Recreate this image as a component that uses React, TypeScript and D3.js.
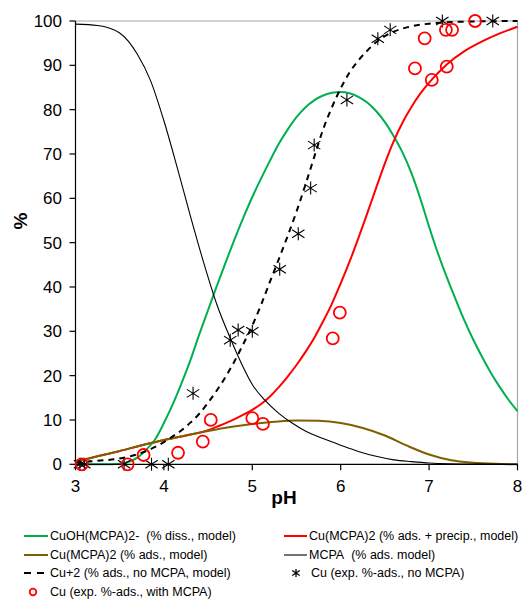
import React from "react";
import * as d3 from "d3";

const greenPH = [3.0, 3.4, 3.55, 3.7, 3.8, 3.9, 4.0, 4.1, 4.2, 4.3, 4.4, 4.5, 4.6, 4.7, 4.8, 4.9, 5.0, 5.1, 5.2, 5.3, 5.4, 5.5, 5.6, 5.7, 5.8, 5.9, 6.0, 6.1, 6.2, 6.3, 6.4, 6.5, 6.6, 6.7, 6.8, 6.9, 7.0, 7.1, 7.2, 7.3, 7.4, 7.5, 7.6, 7.7, 7.8, 7.9, 8.0];
const greenVal = [0, 0, 0.3, 1.5, 3.3, 5.6, 9.3, 13.5, 18.3, 23.5, 29.3, 34.8, 40.3, 45.6, 50.8, 55.7, 60.3, 64.5, 68.5, 72.3, 75.5, 78.3, 80.5, 82.1, 83.2, 83.8, 84.0, 83.7, 82.9, 81.6, 79.7, 77.2, 74.0, 70.3, 65.7, 60.0, 53.6, 47.6, 42.2, 37.2, 32.4, 28.1, 24.2, 20.6, 17.4, 14.5, 12.0];

const redPH = [3.0, 3.25, 3.5, 3.75, 4.0, 4.25, 4.5, 4.6, 4.7, 4.8, 4.9, 5.0, 5.1, 5.2, 5.3, 5.4, 5.5, 5.6, 5.7, 5.8, 5.9, 6.0, 6.1, 6.2, 6.3, 6.4, 6.5, 6.6, 6.7, 6.8, 6.9, 7.0, 7.2, 7.4, 7.6, 7.8, 8.0];
const redVal = [0.6, 1.8, 3.0, 4.3, 5.5, 6.5, 7.7, 8.5, 9.3, 10.2, 11.2, 12.3, 13.6, 15.3, 17.4, 19.8, 22.4, 25.3, 28.5, 32.2, 36.2, 40.8, 45.7, 51.0, 56.6, 62.3, 67.9, 72.9, 77.1, 80.6, 83.6, 86.1, 90.2, 93.2, 95.4, 97.2, 98.7];

const brownPH = [3.0, 3.25, 3.5, 3.75, 4.0, 4.25, 4.5, 4.75, 5.0, 5.25, 5.5, 5.75, 6.0, 6.25, 6.5, 6.75, 7.0, 7.25, 7.5, 7.75, 8.0];
const brownVal = [0.6, 1.8, 3.0, 4.3, 5.5, 6.5, 7.5, 8.4, 9.1, 9.6, 9.9, 9.8, 9.3, 8.2, 6.5, 4.2, 2.2, 0.9, 0.35, 0.1, 0];

const mcpaPH = [3.0, 3.25, 3.5, 3.7, 3.85, 4.0, 4.15, 4.3, 4.45, 4.6, 4.75, 4.9, 5.0, 5.15, 5.3, 5.45, 5.6, 5.8, 6.0, 6.2, 6.4, 6.6, 6.8, 7.0, 7.5, 8.0];
const mcpaVal = [99.3, 99.0, 97.3, 92.5, 86.5, 77.5, 67.0, 56.0, 45.5, 36.0, 28.5, 21.8, 18.0, 14.3, 11.5, 9.3, 7.5, 5.8, 4.3, 2.9, 1.8, 1.0, 0.6, 0.3, 0.05, 0];

const cuPH = [3.0, 3.25, 3.5, 3.75, 4.0, 4.1, 4.2, 4.3, 4.4, 4.5, 4.6, 4.7, 4.8, 4.9, 5.0, 5.1, 5.2, 5.3, 5.4, 5.5, 5.6, 5.7, 5.8, 5.9, 6.0, 6.1, 6.2, 6.3, 6.4, 6.5, 6.6, 6.8, 7.0, 7.5, 8.0];
const cuVal = [0.4, 0.8, 1.3, 2.6, 5.0, 6.3, 7.7, 9.4, 11.4, 13.9, 16.7, 19.8, 23.3, 27.2, 31.3, 36.0, 41.2, 46.3, 51.5, 57.0, 63.0, 69.3, 75.5, 80.5, 84.8, 88.4, 91.1, 93.3, 95.2, 96.6, 97.6, 98.8, 99.4, 99.9, 100];

const starPH = [3.05, 3.1, 3.55, 3.86, 4.05, 4.33, 4.75, 4.84, 5.0, 5.31, 5.52, 5.66, 5.7, 6.07, 6.42, 6.56, 7.15, 7.72];
const starVal = [0, 0, 0, 0, 0, 16, 28, 30.3, 30, 44, 52, 62.3, 72, 82.2, 96, 98, 100, 100];

const circPH = [3.07, 3.59, 3.77, 4.16, 4.44, 4.53, 5.0, 5.12, 5.91, 5.99, 6.84, 6.95, 7.03, 7.19, 7.2, 7.26, 7.52];
const circVal = [0, 0, 2.1, 2.6, 5.1, 10, 10.4, 9.1, 28.4, 34.2, 89.3, 96.1, 86.7, 98, 89.7, 98, 100];

const xTicks = [3, 4, 5, 6, 7, 8];
const yTicks = [0, 10, 20, 30, 40, 50, 60, 70, 80, 90, 100];

const GREEN = "#00B050";
const RED = "#FF0000";
const BROWN = "#7F6000";
const FONT = "'Liberation Sans', Arial, sans-serif";

const zip = (a: number[], b: number[]) => a.map((v, i) => [v, b[i]] as [number, number]);

function Star({ x, y, s = 6.5, w = 1.1 }: { x: number; y: number; s?: number; w?: number }) {
  const dx = s * 0.95;
  const dy = s * 0.62;
  return (
    <path
      d={`M${x},${y - s}L${x},${y + s}M${x - dx},${y - dy}L${x + dx},${y + dy}M${x - dx},${y + dy}L${x + dx},${y - dy}`}
      stroke="#000"
      strokeWidth={w}
      fill="none"
    />
  );
}

export default function App() {
  const x = d3.scaleLinear().domain([3, 8]).range([75.5, 517.5]);
  const y = d3.scaleLinear().domain([0, 100]).range([464.3, 21]);
  const line = d3
    .line<[number, number]>()
    .x((d) => x(d[0]))
    .y((d) => y(d[1]))
    .curve(d3.curveMonotoneX);

  const legendRows = [536, 555, 573, 592];

  return (
    <svg
      width={523}
      height={606}
      style={{ position: "absolute", left: 0, top: 0, background: "#fff" }}
      fontFamily={FONT}
    >
      <rect x={0} y={0} width={523} height={606} fill="#fff" />
      <path d={`M${x(3)},${y(100)}H${x(8)}V${y(0)}`} stroke="#a6a6a6" strokeWidth={1.2} fill="none" />

      <path d={line(zip(greenPH, greenVal)) || ""} stroke={GREEN} strokeWidth={2} fill="none" />
      <path d={line(zip(redPH, redVal)) || ""} stroke={RED} strokeWidth={2} fill="none" />
      <path d={line(zip(brownPH, brownVal)) || ""} stroke={BROWN} strokeWidth={2} fill="none" />
      <path d={line(zip(mcpaPH, mcpaVal)) || ""} stroke="#000" strokeWidth={1.1} fill="none" />
      <path d={line(zip(cuPH, cuVal)) || ""} stroke="#000" strokeWidth={2} strokeDasharray="6,5" fill="none" />

      <path d={`M${x(3)},${y(100)}V${y(0)}H${x(8)}`} stroke="#000" strokeWidth={1.2} fill="none" />
      {yTicks.map((t) => (
        <g key={"y" + t}>
          <line x1={x(3) - 6} x2={x(3)} y1={y(t)} y2={y(t)} stroke="#000" strokeWidth={1.2} />
          <text x={62} y={y(t) + 6} textAnchor="end" fontSize={17} fill="#000">
            {t}
          </text>
        </g>
      ))}
      {xTicks.map((t) => (
        <g key={"x" + t}>
          <line x1={x(t)} x2={x(t)} y1={y(0)} y2={y(0) + 6} stroke="#000" strokeWidth={1.2} />
          <text x={x(t)} y={492} textAnchor="middle" fontSize={17} fill="#000">
            {t}
          </text>
        </g>
      ))}
      <text x={284} y={504} textAnchor="middle" fontSize={19} fontWeight="bold" fill="#000">
        pH
      </text>
      <text transform={`translate(27,221) rotate(-90)`} textAnchor="middle" fontSize={19} fontWeight="bold" fill="#000">
        %
      </text>

      {starPH.map((p, i) => (
        <Star key={"s" + i} x={x(p)} y={y(starVal[i])} />
      ))}
      {circPH.map((p, i) => (
        <circle key={"c" + i} cx={x(p)} cy={y(circVal[i])} r={6} stroke={RED} strokeWidth={1.8} fill="none" />
      ))}

      <g fontSize={12.5} fill="#000">
        <line x1={24} x2={48} y1={legendRows[0]} y2={legendRows[0]} stroke={GREEN} strokeWidth={2} />
        <text x={50} y={legendRows[0] + 4} xmlSpace="preserve">{"CuOH(MCPA)2-\u00A0 (% diss., model)"}</text>
        <line x1={284} x2={307} y1={legendRows[0]} y2={legendRows[0]} stroke={RED} strokeWidth={2} />
        <text x={309} y={legendRows[0] + 4}>{"Cu(MCPA)2 (% ads. + precip., model)"}</text>

        <line x1={24} x2={48} y1={legendRows[1]} y2={legendRows[1]} stroke={BROWN} strokeWidth={2} />
        <text x={50} y={legendRows[1] + 4}>{"Cu(MCPA)2 (% ads., model)"}</text>
        <line x1={284} x2={307} y1={legendRows[1]} y2={legendRows[1]} stroke="#000" strokeWidth={1.1} />
        <text x={309} y={legendRows[1] + 4} xmlSpace="preserve">{"MCPA\u00A0 (% ads. model)"}</text>

        <line x1={24} x2={48} y1={legendRows[2]} y2={legendRows[2]} stroke="#000" strokeWidth={2} strokeDasharray="7,6" />
        <text x={50} y={legendRows[2] + 4}>{"Cu+2 (% ads., no MCPA, model)"}</text>
        <Star x={296} y={legendRows[2]} s={4} w={1.3} />
        <text x={311} y={legendRows[2] + 4}>{"Cu (exp. %-ads., no MCPA)"}</text>

        <circle cx={33} cy={legendRows[3]} r={3.3} stroke={RED} strokeWidth={1.8} fill="none" />
        <text x={50} y={legendRows[3] + 4}>{"Cu (exp. %-ads., with MCPA)"}</text>
      </g>
    </svg>
  );
}
